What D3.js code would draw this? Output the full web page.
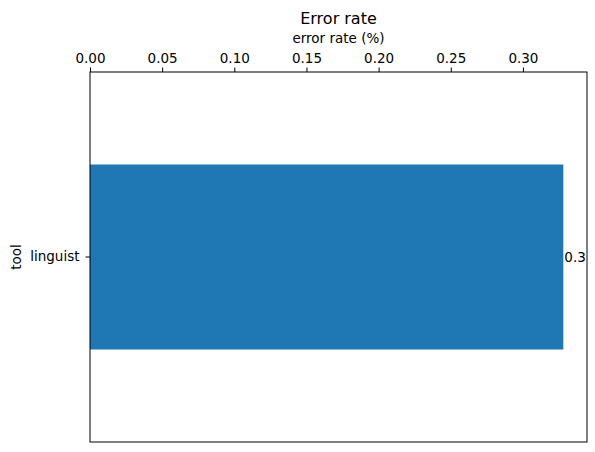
<!DOCTYPE html>
<html>
<head>
<meta charset="utf-8">
<script src="https://cdn.jsdelivr.net/npm/d3@7"></script>
<style>
  body { margin: 0; background: #fff; }
  text { font-family: "DejaVu Sans", sans-serif; fill: #000; }
</style>
</head>
<body>
<div id="chart"></div>
<script>
// data
const tools = ["linguist"];
const errorRates = [0.328];
const xTicks = [0, 0.05, 0.1, 0.15, 0.2, 0.25, 0.3];

const W = 595, H = 452;
const margin = { top: 72, right: 8, bottom: 10, left: 90 };
const width = W - margin.left - margin.right;
const height = H - margin.top - margin.bottom;

const svg = d3
  .select("#chart")
  .append("svg")
  .attr("width", W)
  .attr("height", H);

const g = svg
  .append("g")
  .attr("transform", `translate(${margin.left},${margin.top})`);

// matplotlib-style 5% margin on the x axis
const x = d3
  .scaleLinear()
  .domain([0, d3.max(errorRates) * 1.05])
  .range([0, width]);

// pandas barh: bar width 0.5 within a single unit
const y = d3.scaleBand().domain(tools).range([0, height]).paddingInner(0).paddingOuter(0);
const barH = y.bandwidth() * 0.5;

// bars
g.selectAll("rect.bar")
  .data(tools)
  .join("rect")
  .attr("class", "bar")
  .attr("x", x(0))
  .attr("y", (d) => y(d) + (y.bandwidth() - barH) / 2)
  .attr("width", (d, i) => x(errorRates[i]) - x(0))
  .attr("height", barH)
  .attr("fill", "#1f77b4");

// value labels
g.selectAll("text.val")
  .data(tools)
  .join("text")
  .attr("class", "val")
  .attr("x", (d, i) => x(errorRates[i]) + 1)
  .attr("y", (d) => y(d) + y.bandwidth() / 2)
  .attr("dy", "0.35em")
  .style("font-size", "13.5px")
  .text((d, i) => errorRates[i].toFixed(1));

// frame
g.append("rect")
  .attr("width", width)
  .attr("height", height)
  .attr("fill", "none")
  .attr("stroke", "#000")
  .attr("stroke-width", 1);

// top axis
const xAxis = g
  .append("g")
  .call(d3.axisTop(x).tickValues(xTicks).tickFormat(d3.format(".2f")).tickSize(4.5).tickPadding(5));
xAxis.select(".domain").remove();
xAxis.selectAll("text").style("font-size", "13.5px").style("font-family", "DejaVu Sans");

// left axis
const yAxis = g
  .append("g")
  .call(d3.axisLeft(y).tickSize(4.5).tickPadding(6));
yAxis.select(".domain").remove();
yAxis.selectAll("text").style("font-size", "13.5px").style("font-family", "DejaVu Sans");

// labels
svg.append("text")
  .attr("x", margin.left + width / 2)
  .attr("y", 24)
  .attr("text-anchor", "middle")
  .style("font-size", "16px")
  .text("Error rate");

svg.append("text")
  .attr("x", margin.left + width / 2)
  .attr("y", 42.5)
  .attr("text-anchor", "middle")
  .style("font-size", "13.5px")
  .text("error rate (%)");

svg.append("text")
  .attr("transform", `translate(20.5,${margin.top + height / 2}) rotate(-90)`)
  .attr("text-anchor", "middle")
  .style("font-size", "13.5px")
  .text("tool");
</script>
</body>
</html>
